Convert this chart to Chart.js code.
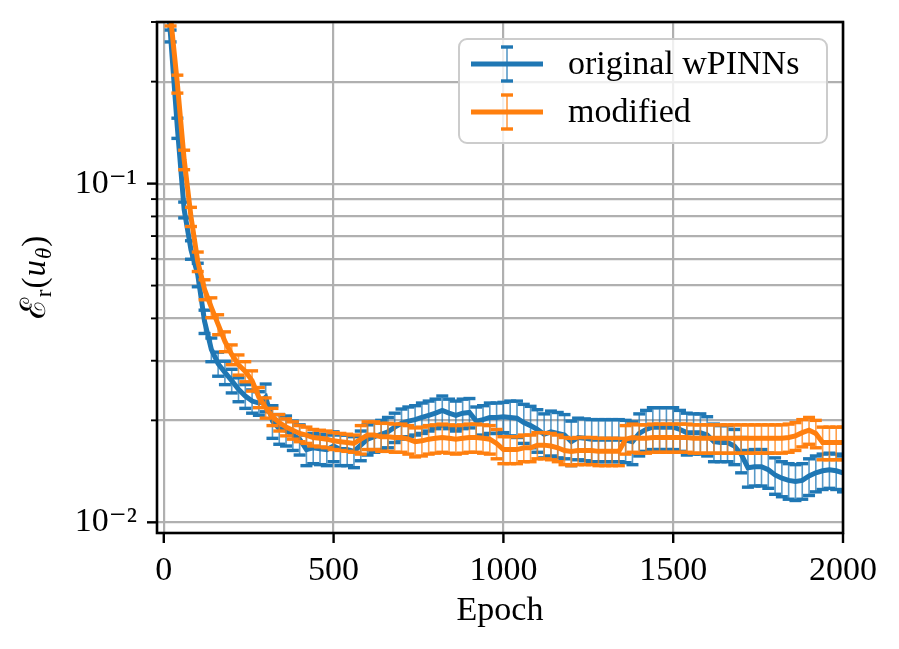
<!DOCTYPE html>
<html>
<head>
<meta charset="utf-8">
<script src="https://cdn.jsdelivr.net/npm/chart.js@4.4.1/dist/chart.umd.min.js"></script>
<style>
  html, body { margin: 0; padding: 0; background: #fff; }
  #wrap { width: 899px; height: 649px; }
</style>
</head>
<body>
<div id="wrap"><canvas id="myChart"></canvas></div>
<script>
const epochs = [
    0, 20, 40, 60, 80, 100, 120, 140, 160, 180,
    200, 220, 240, 260, 280, 300, 320, 340, 360, 380,
    400, 420, 440, 460, 480, 500, 520, 540, 560, 580,
    600, 620, 640, 660, 680, 700, 720, 740, 760, 780,
    800, 820, 840, 860, 880, 900, 920, 940, 960, 980,
    1000, 1020, 1040, 1060, 1080, 1100, 1120, 1140, 1160, 1180,
    1200, 1220, 1240, 1260, 1280, 1300, 1320, 1340, 1360, 1380,
    1400, 1420, 1440, 1460, 1480, 1500, 1520, 1540, 1560, 1580,
    1600, 1620, 1640, 1660, 1680, 1700, 1720, 1740, 1760, 1780,
    1800, 1820, 1840, 1860, 1880, 1900, 1920, 1940, 1960, 1980,
    2000
];

// original wPINNs: mean and error half-width
const blueMean = [
    0.50, 0.273, 0.146, 0.0837, 0.0638, 0.0539, 0.0392, 0.0324, 0.0294, 0.0277,
    0.0262, 0.0247, 0.0236, 0.0228, 0.0225, 0.0234, 0.0199, 0.0189, 0.0187, 0.0181,
    0.0176, 0.0164, 0.0166, 0.0165, 0.0164, 0.0168, 0.0164, 0.0164, 0.0162, 0.0169,
    0.0176, 0.0179, 0.0182, 0.0185, 0.0191, 0.0196, 0.0199, 0.0201, 0.0204, 0.0207,
    0.0210, 0.0214, 0.0210, 0.0207, 0.0210, 0.0211, 0.0199, 0.0201, 0.0204, 0.0204,
    0.0205, 0.0204, 0.0203, 0.0197, 0.0193, 0.0188, 0.0182, 0.0185, 0.0183, 0.0181,
    0.0173, 0.0178, 0.0177, 0.0176, 0.0176, 0.0176, 0.0176, 0.0176, 0.0175, 0.0173,
    0.0183, 0.0188, 0.0191, 0.0191, 0.0191, 0.0191, 0.0188, 0.0184, 0.0184, 0.0184,
    0.0181, 0.0173, 0.0172, 0.0172, 0.0168, 0.0159, 0.0145, 0.0146, 0.0146, 0.0143,
    0.0138, 0.0135, 0.0133, 0.0132, 0.0133, 0.0137, 0.0140, 0.0142, 0.0143, 0.0142,
    0.0140
];
const blueErr = [
    0.025, 0.011, 0.010, 0.0045, 0.0040, 0.0043, 0.0031, 0.0026, 0.0024, 0.0022,
    0.0021, 0.0020, 0.0019, 0.0018, 0.0018, 0.0022, 0.0022, 0.0019, 0.0019, 0.0018,
    0.0018, 0.0017, 0.0017, 0.0017, 0.0017, 0.0017, 0.0017, 0.0017, 0.0017, 0.0017,
    0.0018, 0.0018, 0.0018, 0.0019, 0.0019, 0.0020, 0.0020, 0.0020, 0.0021, 0.0021,
    0.0021, 0.0022, 0.0021, 0.0021, 0.0021, 0.0021, 0.0020, 0.0020, 0.0021, 0.0021,
    0.0021, 0.0024, 0.0025, 0.0026, 0.0027, 0.0027, 0.0027, 0.0028, 0.0028, 0.0027,
    0.0026, 0.0025, 0.0025, 0.0025, 0.0025, 0.0025, 0.0025, 0.0025, 0.0025, 0.0025,
    0.0026, 0.0026, 0.0027, 0.0027, 0.0027, 0.0027, 0.0026, 0.0026, 0.0025, 0.0025,
    0.0024, 0.0022, 0.0021, 0.0021, 0.0020, 0.0019, 0.0018, 0.0018, 0.0018, 0.0017,
    0.0017, 0.0016, 0.0016, 0.0016, 0.0016, 0.0017, 0.0017, 0.0017, 0.0017, 0.0017,
    0.0017
];

// modified: mean and error half-width
const orangeMean = [
    0.60, 0.31, 0.197, 0.1177, 0.0799, 0.0589, 0.0487, 0.0431, 0.0384, 0.0342,
    0.0313, 0.0292, 0.0279, 0.0262, 0.0234, 0.0218, 0.0205, 0.0197, 0.0191, 0.0187,
    0.0183, 0.0181, 0.0178, 0.0177, 0.0176, 0.0174, 0.0173, 0.0172, 0.0171, 0.0176,
    0.0181, 0.0181, 0.0179, 0.0179, 0.0178, 0.0178, 0.0176, 0.0173, 0.0174, 0.0176,
    0.0177, 0.0178, 0.0177, 0.0176, 0.0177, 0.0178, 0.0178, 0.0177, 0.0176, 0.0171,
    0.0164, 0.0164, 0.0164, 0.0166, 0.0166, 0.0169, 0.0169, 0.0168, 0.0166, 0.0163,
    0.0162, 0.0163, 0.0163, 0.0163, 0.0162, 0.0162, 0.0162, 0.0162, 0.0176, 0.0178,
    0.0177, 0.0177, 0.0178, 0.0178, 0.0178, 0.0178, 0.0178, 0.0178, 0.0177, 0.0177,
    0.0177, 0.0177, 0.0177, 0.0177, 0.0177, 0.0177, 0.0177, 0.0177, 0.0177, 0.0177,
    0.0177, 0.0177, 0.0178, 0.0180, 0.0184, 0.0187, 0.0183, 0.0172, 0.0172, 0.0172,
    0.0172
];
const orangeErr = [
    0.040, 0.018, 0.012, 0.0078, 0.0052, 0.0039, 0.0033, 0.0029, 0.0026, 0.0023,
    0.0021, 0.0020, 0.0019, 0.0018, 0.0016, 0.0015, 0.0012, 0.0011, 0.0011, 0.0011,
    0.0010, 0.0010, 0.0010, 0.0010, 0.0010, 0.0010, 0.0010, 0.0010, 0.0010, 0.0017,
    0.0017, 0.0017, 0.0017, 0.0017, 0.0017, 0.0017, 0.0017, 0.0017, 0.0017, 0.0017,
    0.0017, 0.0017, 0.0017, 0.0017, 0.0017, 0.0017, 0.0017, 0.0017, 0.0017, 0.0017,
    0.0015, 0.0015, 0.0015, 0.0015, 0.0015, 0.0015, 0.0015, 0.0015, 0.0015, 0.0015,
    0.0015, 0.0015, 0.0015, 0.0015, 0.0015, 0.0015, 0.0015, 0.0015, 0.0017, 0.0017,
    0.0017, 0.0017, 0.0017, 0.0017, 0.0017, 0.0017, 0.0017, 0.0017, 0.0017, 0.0017,
    0.0017, 0.0017, 0.0017, 0.0017, 0.0017, 0.0017, 0.0017, 0.0017, 0.0017, 0.0017,
    0.0017, 0.0017, 0.0017, 0.0017, 0.0017, 0.0017, 0.0017, 0.0019, 0.0019, 0.0019,
    0.0019
];

const seriesNames = ['original wPINNs', 'modified'];
const xTicks = [0, 500, 1000, 1500, 2000];
const yTicks = [0.01, 0.02, 0.03, 0.04, 0.05, 0.06, 0.07, 0.08, 0.09, 0.1, 0.2, 0.3];
const yTickLabels = { 0.01: '10⁻²', 0.1: '10⁻¹' };

const BLUE = '#1f77b4';
const ORANGE = '#ff7f0e';
const FONT = '"Liberation Serif", "DejaVu Serif", serif';

// matplotlib-style error bars, drawn under each line
const errorBars = {
    id: 'errorBars',
    beforeDatasetDraw(chart, args) {
        const ds = chart.data.datasets[args.index];
        if (!ds.errors) return;
        const { ctx, chartArea: a, scales: { x, y } } = chart;
        ctx.save();
        ctx.beginPath();
        ctx.rect(a.left, a.top, a.right - a.left, a.bottom - a.top);
        ctx.clip();
        ctx.strokeStyle = ds.barColor;
        ctx.lineWidth = 1.6;
        ds.data.forEach((p, i) => {
            const px = x.getPixelForValue(p.x);
            ctx.beginPath();
            ctx.moveTo(px, y.getPixelForValue(p.y - ds.errors[i]));
            ctx.lineTo(px, y.getPixelForValue(p.y + ds.errors[i]));
            ctx.stroke();
        });
        ctx.strokeStyle = ds.borderColor;
        ctx.lineWidth = 3.4;
        ds.data.forEach((p, i) => {
            const px = x.getPixelForValue(p.x);
            [p.y - ds.errors[i], p.y + ds.errors[i]].forEach(v => {
                const py = y.getPixelForValue(v);
                ctx.beginPath();
                ctx.moveTo(px - 6, py);
                ctx.lineTo(px + 6, py);
                ctx.stroke();
            });
        });
        ctx.restore();
    }
};

// frame, tick marks, y title and legend
const decorations = {
    id: 'decorations',
    afterDraw(chart) {
        const { ctx, chartArea: a, scales: { x, y } } = chart;
        ctx.save();
        ctx.strokeStyle = '#000';
        ctx.lineWidth = 2.6;
        ctx.strokeRect(a.left, a.top, a.right - a.left, a.bottom - a.top);

        ctx.lineWidth = 2.4;
        xTicks.forEach(v => {
            const px = x.getPixelForValue(v);
            ctx.beginPath(); ctx.moveTo(px, a.bottom); ctx.lineTo(px, a.bottom + 10); ctx.stroke();
        });
        yTicks.forEach(v => {
            const py = y.getPixelForValue(v);
            const len = yTickLabels[v] ? 10 : 6;
            ctx.lineWidth = yTickLabels[v] ? 2.4 : 1.9;
            ctx.beginPath(); ctx.moveTo(a.left, py); ctx.lineTo(a.left - len, py); ctx.stroke();
        });

        // y axis title: E_r(u_theta)
        ctx.translate(45, 280);
        ctx.rotate(-Math.PI / 2);
        ctx.fillStyle = '#000';
        ctx.textBaseline = 'alphabetic';
        const parts = [
            { t: 'ℰ', f: '35px ' + FONT, dy: 0 },
            { t: 'r', f: '23px ' + FONT, dy: 6 },
            { t: '(', f: '33px ' + FONT, dy: 0 },
            { t: 'u', f: 'italic 33px ' + FONT, dy: 0 },
            { t: 'θ', f: 'italic 23px ' + FONT, dy: 6 },
            { t: ')', f: '33px ' + FONT, dy: 0 }
        ];
        let total = 0;
        parts.forEach(p => { ctx.font = p.f; p.w = ctx.measureText(p.t).width; total += p.w; });
        let cx = -total / 2;
        parts.forEach(p => { ctx.font = p.f; ctx.fillText(p.t, cx, p.dy); cx += p.w + 1; });
        ctx.restore();

        // legend
        ctx.save();
        const lx = 459, ly = 39, lw = 368, lh = 104, r = 8;
        ctx.beginPath();
        ctx.roundRect(lx, ly, lw, lh, r);
        ctx.fillStyle = 'rgba(255,255,255,0.8)';
        ctx.fill();
        ctx.strokeStyle = '#cccccc';
        ctx.lineWidth = 2;
        ctx.stroke();
        const rows = [
            { y: 64, c: BLUE, bar: 'rgba(31,119,180,0.75)' },
            { y: 112, c: ORANGE, bar: 'rgba(255,127,14,0.75)' }
        ];
        rows.forEach((row, i) => {
            ctx.strokeStyle = row.bar;
            ctx.lineWidth = 1.6;
            ctx.beginPath(); ctx.moveTo(507, row.y - 17); ctx.lineTo(507, row.y + 17); ctx.stroke();
            ctx.strokeStyle = row.c;
            ctx.lineWidth = 3.4;
            [row.y - 17, row.y + 17].forEach(cy => {
                ctx.beginPath(); ctx.moveTo(501, cy); ctx.lineTo(513, cy); ctx.stroke();
            });
            ctx.lineWidth = 5;
            ctx.beginPath(); ctx.moveTo(471, row.y); ctx.lineTo(543, row.y); ctx.stroke();
            ctx.fillStyle = '#000';
            ctx.font = '34px ' + FONT;
            ctx.textBaseline = 'middle';
            ctx.fillText(seriesNames[i], 568, row.y + 1);
        });
        ctx.restore();
    }
};

const ctx = document.getElementById('myChart').getContext('2d');

new Chart(ctx, {
    type: 'line',
    data: {
        datasets: [{
            label: seriesNames[0],
            data: epochs.map((e, i) => ({ x: e, y: blueMean[i] })),
            errors: blueErr,
            borderColor: BLUE,
            barColor: 'rgba(31,119,180,0.75)',
            borderWidth: 5,
            pointRadius: 0,
            tension: 0,
            order: 2
        }, {
            label: seriesNames[1],
            data: epochs.map((e, i) => ({ x: e, y: orangeMean[i] })),
            errors: orangeErr,
            borderColor: ORANGE,
            barColor: 'rgba(255,127,14,0.75)',
            borderWidth: 5,
            pointRadius: 0,
            tension: 0,
            order: 1
        }]
    },
    options: {
        responsive: true,
        maintainAspectRatio: false,
        animation: false,
        layout: { padding: { left: 0, right: 56, top: 22, bottom: 0 } },
        plugins: {
            legend: { display: false },
            tooltip: { enabled: false }
        },
        scales: {
            x: {
                type: 'linear',
                min: -20,
                max: 2000,
                afterBuildTicks: scale => { scale.ticks = xTicks.map(v => ({ value: v })); },
                afterFit: scale => {
                    scale.height = 116;
                    scale.paddingLeft = 0;
                    scale.paddingRight = 0;
                },
                grid: { color: '#b0b0b0', lineWidth: 2.2, drawTicks: false },
                border: { display: false },
                ticks: {
                    padding: 18,
                    color: '#000',
                    maxRotation: 0,
                    autoSkip: false,
                    font: { family: FONT, size: 34 },
                    callback: v => String(v)
                },
                title: {
                    display: true,
                    text: 'Epoch',
                    color: '#000',
                    padding: { top: 0, bottom: 18 },
                    font: { family: FONT, size: 34 }
                }
            },
            y: {
                type: 'logarithmic',
                min: 0.0093,
                max: 0.3,
                afterBuildTicks: scale => { scale.ticks = yTicks.map(v => ({ value: v })); },
                afterFit: scale => {
                    scale.width = 157;
                    scale.paddingTop = 0;
                    scale.paddingBottom = 0;
                },
                grid: { color: '#b0b0b0', lineWidth: 2.2, drawTicks: false },
                border: { display: false },
                ticks: {
                    padding: 20,
                    color: '#000',
                    autoSkip: false,
                    font: { family: FONT, size: 34 },
                    callback: v => yTickLabels[v] || ''
                }
            }
        }
    },
    plugins: [errorBars, decorations]
});
</script>
</body>
</html>
